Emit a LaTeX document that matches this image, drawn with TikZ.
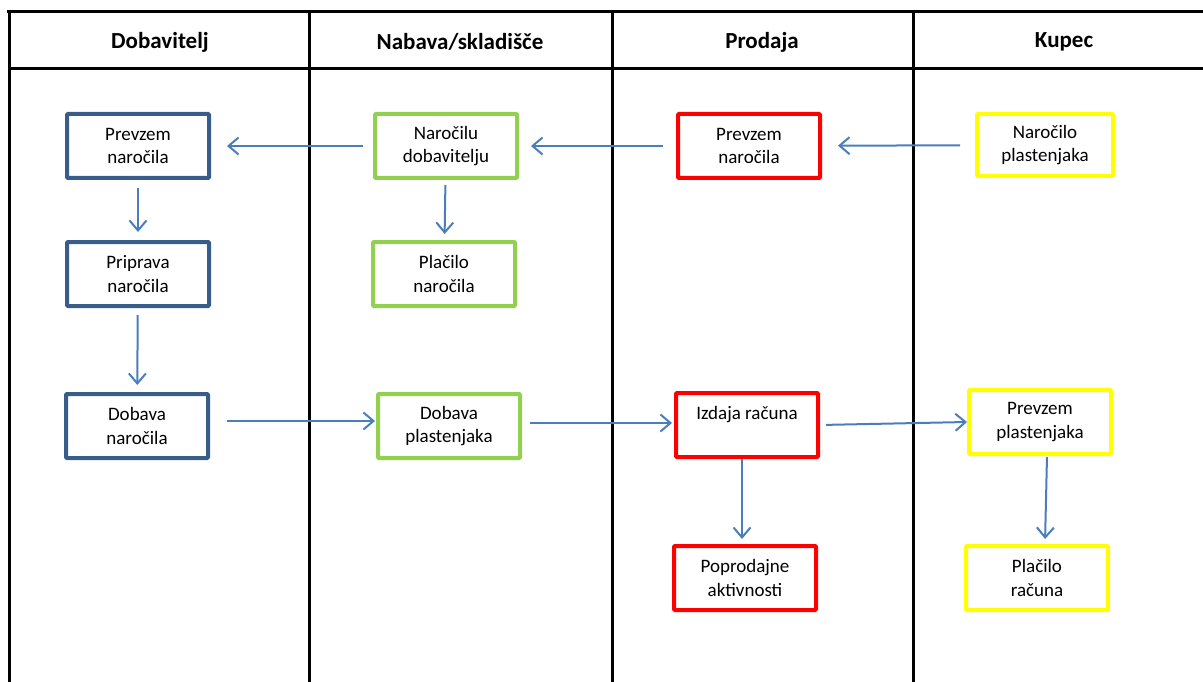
\documentclass[tikz,border=0pt]{standalone}
\usepackage{fontspec}
\setmainfont{Carlito}
\usepackage{xcolor}
\usetikzlibrary{arrows.meta}

\definecolor{dobblue}{HTML}{385D8A}
\definecolor{nabgreen}{HTML}{92D050}
\definecolor{prodred}{HTML}{FF0000}
\definecolor{kupyellow}{HTML}{FFFF00}
\definecolor{flowblue}{HTML}{4A7EBB}

\begin{document}
\begin{tikzpicture}[x=1pt,y=-1pt]
    \tikzstyle{B}=[rectangle,line width=4pt,rounded corners=1pt,minimum width=142pt,minimum height=64pt,align=center,font=\fontsize{19}{23.5}\selectfont]
    \tikzstyle{D}=[B,draw=dobblue]
    \tikzstyle{N}=[B,draw=nabgreen]
    \tikzstyle{P}=[B,draw=prodred]
    \tikzstyle{K}=[B,draw=kupyellow]
    \tikzstyle{H}=[font=\fontsize{23}{28}\selectfont\bfseries]
    \tikzstyle{flow}=[draw=flowblue,line width=2pt,-{Straight Barb[length=10pt,width=17pt,line width=2pt]}]
    \tikzstyle{grid}=[line width=3pt]

    \useasboundingbox (0,0) rectangle (1203,682);

    % Table
    \draw [grid] (7,12) -- (1203,12);
    \draw [grid] (9,69) -- (1203,69);
    \foreach \x in {9,309,612,913}
        \draw [grid] (\x,12) -- (\x,682);

    \node [H] (hDob) at (160,42) {Dobavitelj};
    \node [H] (hNab) at (460,42) {Nabava/skladišče};
    \node [H] (hProd) at (762,42) {Prodaja};
    \node [H] (hKup) at (1064,42) {Kupec};

    % Dobavitelj
    \node [D] (dPrevzem) at (138,146) {Prevzem\\naročila};
    \node [D] (dPriprava) at (138,274) {Priprava\\naročila};
    \node [D] (dDobava) at (137,426) {Dobava\\naročila};

    % Nabava/skladišče
    \node [N] (nNarocilu) at (446,146) {Naročilu\\dobavitelju};
    \node [N] (nPlacilo) at (444,274) {Plačilo\\naročila};
    \node [N] (nDobava) at (449,426) {Dobava\\plastenjaka};

    % Prodaja
    \node [P] (pPrevzem) at (749,146) {Prevzem\\naročila};
    \node [P] (pIzdaja) at (747,425) {Izdaja računa\\\mbox{}};
    \node [P] (pPoprodajne) at (745,578) {Poprodajne\\aktivnosti};

    % Kupec
    \node [K,minimum width=136pt,minimum height=62pt] (kNarocilo) at (1045,145) {Naročilo\\plastenjaka};
    \node [K] (kPrevzem) at (1040,422) {Prevzem\\plastenjaka};
    \node [K] (kPlacilo) at (1037,578) {Plačilo\\računa};

    % Tok
    \draw [flow,shorten <=15pt,shorten >=16pt] (kNarocilo) -- (pPrevzem);
    \draw [flow,shorten <=13pt,shorten >=12pt] (pPrevzem) -- (nNarocilu);
    \draw [flow,shorten <=10pt,shorten >=16pt] (nNarocilu) -- (dPrevzem);
    \draw [flow,shorten <=8pt,shorten >=8pt] (dPrevzem) -- (dPriprava);
    \draw [flow,shorten <=7pt,shorten >=7pt] (dPriprava) -- (dDobava);
    \draw [flow,shorten <=5pt,shorten >=6pt] (nNarocilu) -- (nPlacilo);
    \draw [flow,shorten <=17pt,shorten >=1pt] ([yshift=5pt]dDobava.east) -- ([yshift=5pt]nDobava.west);
    \draw [flow,shorten <=8pt,shorten >=2pt] ([yshift=3pt]nDobava.east) -- ([yshift=2pt]pIzdaja.west);
    \draw [flow,shorten <=6pt,shorten >=0pt] (pIzdaja.east) -- (kPrevzem.west);
    \draw [flow,shorten <=0pt,shorten >=5pt] ([xshift=-5pt]pIzdaja.south) -- ([xshift=-3pt]pPoprodajne.north);
    \draw [flow,shorten <=1pt,shorten >=5pt] ([xshift=7pt]kPrevzem.south) -- ([xshift=8pt]kPlacilo.north);
\end{tikzpicture}
\end{document}
